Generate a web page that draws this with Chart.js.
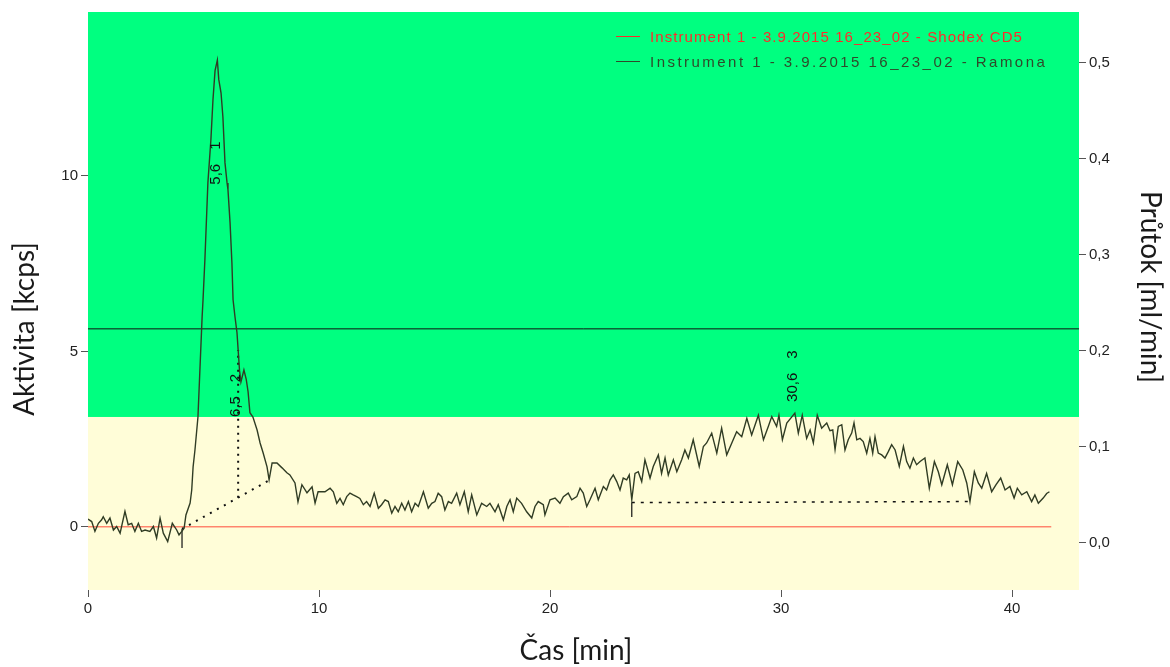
<!DOCTYPE html>
<html>
<head>
<meta charset="utf-8">
<script src="https://cdn.jsdelivr.net/npm/chart.js@4.4.1/dist/chart.umd.min.js"></script>
<style>
  html, body { margin: 0; padding: 0; background: #ffffff; }
  #wrap { width: 1170px; height: 667px; }
</style>
</head>
<body>
<div id="wrap"><canvas id="c" width="1170" height="667"></canvas></div>
<script>
// Ramona radio detector trace: retention time [min] and activity [kcps]
const TIME_MIN = [
  0.00, 0.16, 0.30, 0.45, 0.59, 0.66, 0.81, 0.95, 1.10, 1.24, 1.39, 1.60, 1.74, 1.89, 2.03, 2.18,
  2.32, 2.47, 2.68, 2.83, 2.97, 3.12, 3.26, 3.45, 3.65, 3.84, 3.94, 4.06, 4.16, 4.24, 4.42, 4.49,
  4.55, 4.63, 4.76, 4.85, 4.94, 4.98, 5.06, 5.19, 5.32, 5.41, 5.50, 5.60, 5.66, 5.76, 5.84, 5.93,
  6.02, 6.06, 6.15, 6.23, 6.28, 6.36, 6.45, 6.50, 6.56, 6.62, 6.75, 6.85, 6.93, 7.01, 7.14, 7.32,
  7.45, 7.58, 7.75, 7.84, 7.97, 8.18, 8.40, 8.61, 8.74, 8.96, 9.09, 9.26, 9.48, 9.70, 9.83, 9.96,
  10.26, 10.48, 10.62, 10.77, 10.91, 11.05, 11.20, 11.34, 11.48, 11.63, 11.77, 11.92, 12.06, 12.21, 12.39, 12.57,
  12.71, 12.86, 13.00, 13.15, 13.29, 13.43, 13.58, 13.72, 13.87, 14.01, 14.16, 14.30, 14.52, 14.73, 14.88, 15.02,
  15.16, 15.31, 15.45, 15.60, 15.74, 15.96, 16.10, 16.29, 16.46, 16.61, 16.83, 17.04, 17.26, 17.40, 17.62, 17.76,
  17.98, 18.13, 18.27, 18.41, 18.56, 18.77, 18.99, 19.21, 19.35, 19.49, 19.71, 19.78, 20.00, 20.22, 20.43, 20.58,
  20.79, 20.94, 21.16, 21.30, 21.44, 21.59, 21.73, 21.95, 22.09, 22.31, 22.45, 22.60, 22.74, 22.89, 23.03, 23.17,
  23.32, 23.43, 23.54, 23.68, 23.82, 23.97, 24.11, 24.33, 24.47, 24.69, 24.83, 24.98, 25.12, 25.34, 25.49, 25.70,
  25.84, 25.99, 26.20, 26.46, 26.64, 26.78, 27.00, 27.22, 27.43, 27.65, 27.87, 28.08, 28.30, 28.52, 28.73, 29.02,
  29.24, 29.45, 29.60, 29.81, 29.91, 30.06, 30.25, 30.60, 30.75, 30.92, 31.11, 31.26, 31.40, 31.57, 31.76, 31.98,
  32.12, 32.24, 32.34, 32.48, 32.63, 32.77, 32.91, 33.06, 33.16, 33.28, 33.42, 33.56, 33.71, 33.85, 33.97, 34.07,
  34.21, 34.36, 34.50, 34.65, 34.79, 34.94, 35.12, 35.30, 35.44, 35.58, 35.73, 35.87, 36.02, 36.23, 36.42, 36.64,
  36.81, 36.96, 37.20, 37.42, 37.65, 37.87, 38.04, 38.18, 38.37, 38.54, 38.69, 38.90, 39.12, 39.31, 39.51, 39.70,
  39.91, 40.09, 40.23, 40.42, 40.64, 40.85, 40.99, 41.14, 41.35, 41.50, 41.62
];
const ACTIVITY_KCPS = [
  0.22, 0.15, -0.13, 0.10, 0.20, 0.29, 0.10, 0.25, -0.09, 0.01, -0.18, 0.44, 0.06, 0.10, -0.13, 0.10,
  -0.13, -0.09, -0.13, 0.01, -0.32, 0.25, -0.18, -0.42, 0.10, -0.09, -0.23, -0.13, -0.04, 0.34, 0.68, 1.05,
  1.71, 2.19, 3.13, 4.56, 5.98, 6.47, 7.61, 9.80, 11.03, 12.17, 13.00, 13.30, 12.75, 12.36, 11.68, 10.37,
  9.80, 9.60, 8.66, 7.52, 6.47, 6.00, 5.53, 5.04, 4.45, 4.13, 4.47, 4.20, 3.85, 3.25, 3.13, 2.76,
  2.39, 2.11, 1.71, 1.34, 1.82, 1.82, 1.68, 1.54, 1.48, 1.25, 0.71, 1.20, 0.97, 1.14, 0.68, 1.00,
  1.00, 1.10, 1.00, 0.67, 0.81, 0.63, 0.86, 0.96, 0.91, 0.86, 0.81, 0.63, 0.72, 0.58, 0.96, 0.53,
  0.63, 0.77, 0.72, 0.39, 0.58, 0.43, 0.67, 0.48, 0.72, 0.43, 0.67, 0.58, 1.00, 0.53, 0.67, 0.72,
  0.96, 0.86, 0.48, 0.72, 0.67, 0.96, 0.63, 1.00, 0.43, 0.91, 0.34, 0.67, 0.58, 0.67, 0.43, 0.63,
  0.20, 0.58, 0.77, 0.43, 0.82, 0.67, 0.43, 0.25, 0.58, 0.72, 0.63, 0.34, 0.77, 0.82, 0.67, 0.86,
  0.96, 0.77, 0.86, 1.10, 0.96, 0.58, 0.77, 1.10, 0.77, 1.15, 1.05, 1.34, 1.48, 1.29, 1.05, 1.39,
  1.34, 1.48, 0.77, 1.52, 1.57, 1.29, 1.91, 1.39, 1.72, 2.05, 1.52, 1.96, 1.48, 1.91, 1.57, 1.91,
  2.19, 1.96, 2.48, 1.72, 2.29, 2.39, 2.67, 2.10, 2.81, 2.05, 2.39, 2.71, 2.57, 3.09, 2.62, 3.18,
  2.48, 2.86, 3.14, 2.86, 3.18, 2.48, 2.96, 3.24, 2.67, 3.18, 2.52, 2.76, 2.39, 3.18, 2.81, 2.96,
  2.74, 2.76, 2.20, 2.86, 2.91, 2.19, 2.48, 2.67, 2.96, 2.48, 2.52, 2.43, 2.10, 2.52, 2.10, 2.57,
  2.10, 2.05, 1.96, 2.15, 2.34, 2.19, 1.72, 2.29, 1.86, 1.67, 1.96, 1.77, 1.86, 1.96, 1.10, 1.86,
  1.57, 1.20, 1.77, 1.20, 1.86, 1.62, 1.25, 0.72, 1.57, 1.25, 1.10, 1.52, 1.00, 1.20, 1.39, 1.05,
  1.15, 0.82, 1.10, 0.91, 1.00, 0.72, 0.91, 0.67, 0.82, 0.95, 1.00
];

// Shodex CD5 conductivity trace (flat over the run)
const CD5_TIME = [0, 41.7];
const CD5_SIGNAL = [0, 0];

// Flow rate [ml/min]
const FLOW_TIME = [0, 42.9];
const FLOW_ML_MIN = [0.223, 0.223];

// Integrated peaks: retention time, number, integration baselines
const PEAK_RT = [5.6, 6.5, 30.6];
const PEAK_RT_TEXT = ['5,6', '6,5', '30,6'];
const PEAK_NO = ['1', '2', '3'];
const BASE12_TIME = [4.07, 7.88];
const BASE12_KCPS = [-0.06, 1.34];
const DROP2_TIME = [6.5, 6.5];
const DROP2_KCPS = [0.83, 5.04];
const BASE3_TIME = [23.54, 38.18];
const BASE3_KCPS = [0.69, 0.72];
const START1_TIME = [4.07, 4.07];
const START1_KCPS = [-0.06, -0.60];
const START3_TIME = [23.54, 23.54];
const START3_KCPS = [0.69, 0.28];

// Axis ticks
const X_TICKS = [0, 10, 20, 30, 40];
const LEFT_TICKS = [0, 5, 10];
const RIGHT_TICKS = [0, 0.1, 0.2, 0.3, 0.4, 0.5];

// Legend entries
const LEGEND_TEXT = [
  'Instrument 1 - 3.9.2015 16_23_02 - Shodex CD5',
  'Instrument 1 - 3.9.2015 16_23_02 - Ramona'
];

// ---- drawing setup ----
const BAND_SPLIT_KCPS = 3.13;               // green/yellow split of the plot background
const LABEL_FOOT_KCPS = [9.75, 3.13, 3.56]; // where each vertical peak label starts
const TICK_FONT = { family: '"Liberation Sans", Arial, sans-serif', size: 15 };
const TRACE_COLOR = '#303c24';

const pts = (xs, ys) => xs.map((x, i) => ({ x: x, y: ys[i] }));
const fixTicks = (list) => (scale) => { scale.ticks = list.map(v => ({ value: v })); };

const bands = {
  id: 'bands',
  beforeDraw(chart) {
    const { ctx, chartArea: a } = chart;
    const yb = chart.scales.y.getPixelForValue(BAND_SPLIT_KCPS);
    ctx.save();
    ctx.fillStyle = '#00ff80';
    ctx.fillRect(a.left, a.top, a.right - a.left, yb - a.top);
    ctx.fillStyle = '#fffdd8';
    ctx.fillRect(a.left, yb, a.right - a.left, a.bottom - yb);
    ctx.restore();
  }
};

const peakLabels = {
  id: 'peakLabels',
  afterDatasetsDraw(chart) {
    const { ctx, scales: { x, y } } = chart;
    ctx.save();
    ctx.fillStyle = '#111111';
    ctx.font = '15px "Liberation Sans", Arial, sans-serif';
    ctx.textBaseline = 'middle';
    ctx.textAlign = 'left';
    PEAK_RT.forEach((rt, i) => {
      const px = x.getPixelForValue(rt);
      const py = y.getPixelForValue(LABEL_FOOT_KCPS[i]);
      ctx.save();
      ctx.translate(px, py);
      ctx.rotate(-Math.PI / 2);
      const w = ctx.measureText(PEAK_RT_TEXT[i]).width;
      ctx.fillText(PEAK_RT_TEXT[i], 0, -2);
      ctx.fillText(PEAK_NO[i], w + 14, -2);
      ctx.restore();
    });
    ctx.restore();
  }
};

const frameText = {
  id: 'frameText',
  afterDraw(chart) {
    const { ctx } = chart;
    ctx.save();
    // legend
    const rows = [
      { color: '#ff2a2a', text: LEGEND_TEXT[0], width: 372, y: 38 },
      { color: '#2f4a2a', text: LEGEND_TEXT[1], width: 395, y: 63 }
    ];
    ctx.font = '15px "Liberation Sans", Arial, sans-serif';
    ctx.textBaseline = 'middle';
    ctx.textAlign = 'left';
    rows.forEach(r => {
      ctx.strokeStyle = r.color;
      ctx.lineWidth = 1;
      ctx.beginPath();
      ctx.moveTo(616, r.y - 1.5);
      ctx.lineTo(640, r.y - 1.5);
      ctx.stroke();
      ctx.letterSpacing = '0px';
      const w0 = ctx.measureText(r.text).width;
      const sp = Math.max(0, (r.width - w0) / (r.text.length - 1));
      ctx.letterSpacing = sp.toFixed(2) + 'px';
      ctx.fillStyle = r.color;
      ctx.fillText(r.text, 650, r.y);
    });
    ctx.letterSpacing = '0px';
    // axis titles
    ctx.fillStyle = '#1a1a1a';
    ctx.font = '28px Lato, "Open Sans", sans-serif';
    ctx.textAlign = 'center';
    ctx.textBaseline = 'middle';
    ctx.fillText('Čas [min]', 576, 651);
    ctx.save();
    ctx.translate(25, 329);
    ctx.rotate(-Math.PI / 2);
    ctx.fillText('Aktivita [kcps]', 0, 0);
    ctx.restore();
    ctx.save();
    ctx.translate(1150, 287);
    ctx.rotate(Math.PI / 2);
    ctx.fillText('Průtok [ml/min]', 0, 0);
    ctx.restore();
    ctx.restore();
  }
};

const axisCommon = {
  border: { display: false },
  grid: { drawOnChartArea: false, drawTicks: true, tickLength: 7, color: '#555555' },
};

new Chart(document.getElementById('c'), {
  type: 'line',
  data: {
    datasets: [
      { label: 'Ramona', data: pts(TIME_MIN, ACTIVITY_KCPS), yAxisID: 'y',
        borderColor: TRACE_COLOR, borderWidth: 1.4, pointRadius: 0, tension: 0 },
      { label: 'start1', data: pts(START1_TIME, START1_KCPS), yAxisID: 'y',
        borderColor: '#111111', borderWidth: 1.2, pointRadius: 0 },
      { label: 'start3', data: pts(START3_TIME, START3_KCPS), yAxisID: 'y',
        borderColor: '#111111', borderWidth: 1.2, pointRadius: 0 },
      { label: 'base12', data: pts(BASE12_TIME, BASE12_KCPS), yAxisID: 'y',
        borderColor: '#111111', borderWidth: 2, borderDash: [2, 6], pointRadius: 0 },
      { label: 'drop2', data: pts(DROP2_TIME, DROP2_KCPS), yAxisID: 'y',
        borderColor: '#111111', borderWidth: 2, borderDash: [2, 5], pointRadius: 0 },
      { label: 'base3', data: pts(BASE3_TIME, BASE3_KCPS), yAxisID: 'y',
        borderColor: '#111111', borderWidth: 1.5, borderDash: [3, 6], pointRadius: 0 },
      { label: 'Shodex CD5', data: pts(CD5_TIME, CD5_SIGNAL), yAxisID: 'y',
        borderColor: '#ff4a3a', borderWidth: 1, pointRadius: 0 },
      { label: 'Průtok', data: pts(FLOW_TIME, FLOW_ML_MIN), yAxisID: 'y2',
        borderColor: '#111111', borderWidth: 1, pointRadius: 0 }
    ]
  },
  options: {
    responsive: false,
    animation: false,
    devicePixelRatio: 1,
    layout: { padding: { top: 12, left: 0, right: 0, bottom: 0 } },
    plugins: { legend: { display: false }, tooltip: { enabled: false } },
    scales: {
      x: Object.assign({}, axisCommon, {
        type: 'linear', min: 0, max: 42.9,
        afterBuildTicks: fixTicks(X_TICKS),
        afterFit: (s) => { s.height = 77; },
        ticks: { font: TICK_FONT, color: '#222222', padding: 3, maxRotation: 0, callback: v => String(v) }
      }),
      y: Object.assign({}, axisCommon, {
        type: 'linear', position: 'left', min: -1.8, max: 14.67,
        afterBuildTicks: fixTicks(LEFT_TICKS),
        afterFit: (s) => { s.width = 88; },
        ticks: { font: TICK_FONT, color: '#222222', padding: 3, callback: v => String(v) }
      }),
      y2: Object.assign({}, axisCommon, {
        type: 'linear', position: 'right', min: -0.049, max: 0.553,
        afterBuildTicks: fixTicks(RIGHT_TICKS),
        afterFit: (s) => { s.width = 91; },
        ticks: { font: TICK_FONT, color: '#222222', padding: 3,
                 callback: v => v.toFixed(1).replace('.', ',') }
      })
    }
  },
  plugins: [bands, peakLabels, frameText]
});
</script>
</body>
</html>
